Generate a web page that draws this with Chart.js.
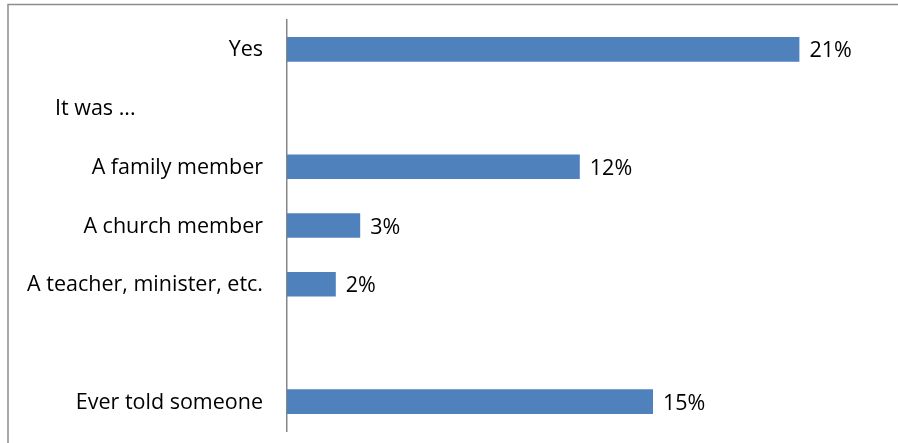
<!DOCTYPE html>
<html>
<head>
<meta charset="utf-8">
<script src="https://cdn.jsdelivr.net/npm/chart.js@4.4.0/dist/chart.umd.min.js"></script>
<style>
  html, body { margin: 0; padding: 0; background: #fff; }
  #wrap { width: 898px; height: 443px; position: relative; }
</style>
</head>
<body>
<div id="wrap"><canvas id="grafico"></canvas></div>
<script>
const categorias = ['Yes', 'It was ...', 'A family member', 'A church member', 'A teacher, minister, etc.', '', 'Ever told someone'];
const valores = [21, null, 12, 3, 2, null, 15];
const rotulosValor = ['21%', '', '12%', '3%', '2%', '', '15%'];

const fonte = "'Open Sans', sans-serif";

// moldura cinza e rótulos das categorias
const pluginDesenho = {
    id: 'desenho',
    beforeDraw(chart) {
        const ctx = chart.ctx;
        ctx.save();
        ctx.strokeStyle = '#8c8c8c';
        ctx.lineWidth = 1.5;
        ctx.strokeRect(8, 4.5, 1000, 1000);
        ctx.restore();
    },
    afterDraw(chart) {
        const ctx = chart.ctx;
        const y = chart.scales.y;
        const x = chart.scales.x;
        ctx.save();
        ctx.fillStyle = '#000';
        ctx.font = '21.5px ' + fonte;
        ctx.textBaseline = 'middle';
        categorias.forEach((c, i) => {
            const py = y.getPixelForValue(i) + 1;
            if (i === 1) {
                ctx.textAlign = 'left';
                ctx.fillText(c, 55, py);
            } else {
                ctx.textAlign = 'right';
                ctx.fillText(c, 263, py);
            }
            if (valores[i] !== null) {
                ctx.textAlign = 'left';
                ctx.fillText(rotulosValor[i], x.getPixelForValue(valores[i]) + 10, py + 1);
            }
        });
        ctx.restore();
    }
};

new Chart(document.getElementById('grafico'), {
    type: 'bar',
    data: {
        labels: categorias,
        datasets: [{
            data: valores,
            backgroundColor: '#4f81bd',
            barPercentage: 0.42,
            categoryPercentage: 1
        }]
    },
    options: {
        indexAxis: 'y',
        responsive: true,
        maintainAspectRatio: false,
        animation: false,
        layout: { padding: { left: 279, right: 1, top: 20, bottom: 12 } },
        plugins: { legend: { display: false }, tooltip: { enabled: false } },
        scales: {
            x: { display: false, min: 0, max: 25 },
            y: {
                display: true,
                ticks: { display: false },
                grid: { display: false },
                border: { display: true, color: '#868686', width: 1.5 }
            }
        }
    },
    plugins: [pluginDesenho]
});
</script>
</body>
</html>
